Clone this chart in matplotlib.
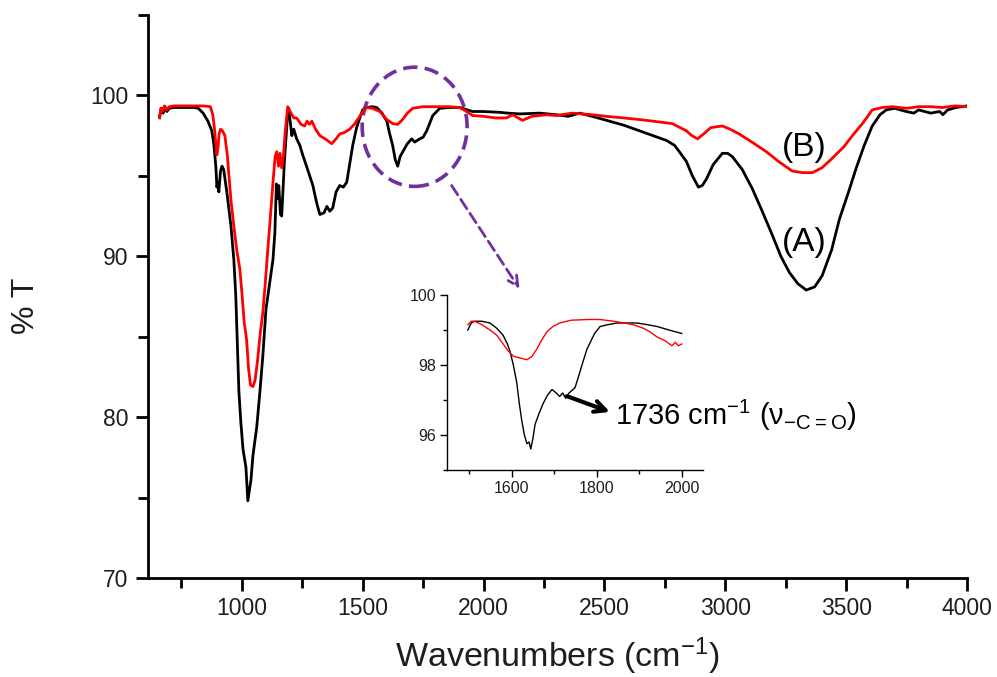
import matplotlib
matplotlib.use("Agg")
import matplotlib.pyplot as plt
from matplotlib.patches import Ellipse
from matplotlib.ticker import MultipleLocator

plt.rcParams['font.family'] = ['Liberation Sans', 'DejaVu Sans']
plt.rcParams['mathtext.default'] = 'regular'

# ---- main spectrum (A), black ----
wave_A = [660, 668, 675, 682, 690, 700, 720, 760, 800, 820, 840, 860, 876, 885, 893, 897, 901, 905, 912, 918,
          925, 938, 955, 967, 975, 982, 988, 996, 1005, 1017, 1025, 1038, 1046, 1062, 1075, 1087, 1100, 1116,
          1129, 1137, 1143, 1148, 1153, 1160, 1165, 1170, 1176, 1182, 1190, 1194, 1200, 1207, 1215, 1227, 1240,
          1252, 1270, 1294, 1310, 1323, 1340, 1352, 1364, 1376, 1390, 1405, 1420, 1434, 1445, 1459, 1475, 1488,
          1500, 1517, 1540, 1558, 1580, 1600, 1612, 1624, 1635, 1645, 1655, 1666, 1685, 1703, 1715, 1736, 1750,
          1765, 1790, 1819, 1860, 1901, 1955, 2000, 2066, 2100, 2150, 2232, 2300, 2350, 2397, 2450, 2509, 2580,
          2645, 2700, 2757, 2790, 2810, 2839, 2864, 2889, 2905, 2922, 2950, 2988, 3010, 3029, 3070, 3112, 3150,
          3195, 3230, 3265, 3300, 3335, 3370, 3401, 3440, 3472, 3510, 3542, 3575, 3608, 3640, 3666, 3700, 3749,
          3780, 3800, 3850, 3887, 3900, 3920, 3955, 4000]
trans_A = [98.7, 99.2, 98.9, 99.3, 99.0, 99.2, 99.25, 99.25, 99.25, 99.2, 98.9, 98.4, 97.8, 96.9, 95.5, 94.3, 94.6,
           94.0, 95.3, 95.6, 95.4, 94.0, 91.9, 89.8, 87.6, 84.4, 81.6, 79.7, 78.0, 76.9, 74.8, 76.1, 77.6, 79.4,
           81.6, 83.8, 86.7, 88.4, 89.8, 91.5, 94.5, 93.6, 94.4, 92.6, 92.5, 94.0, 95.8, 97.2, 99.0, 99.2, 98.4,
           97.5, 97.9, 97.3, 96.9, 96.3, 95.5, 94.4, 93.3, 92.6, 92.7, 93.1, 92.8, 93.0, 94.0, 94.4, 94.3, 94.6,
           95.6, 96.9, 98.0, 98.6, 99.1, 99.25, 99.3, 99.25, 98.9, 98.4, 97.6, 96.9, 96.0, 95.6, 96.2, 96.5, 97.0,
           97.3, 97.1, 97.3, 97.4, 97.8, 98.75, 99.2, 99.25, 99.25, 99.0, 99.0, 98.95, 98.9, 98.85, 98.9, 98.8,
           98.7, 98.9, 98.7, 98.45, 98.15, 97.8, 97.5, 97.2, 96.9, 96.5, 95.9, 95.0, 94.3, 94.4, 94.8, 95.7, 96.4,
           96.4, 96.2, 95.4, 94.2, 92.9, 91.3, 90.0, 89.0, 88.3, 87.9, 88.1, 88.8, 90.4, 92.3, 94.0, 95.5, 96.9,
           98.1, 98.8, 99.1, 99.2, 99.0, 98.9, 99.1, 98.9, 99.0, 98.8, 99.1, 99.25, 99.35]

# ---- main spectrum (B), red ----
wave_B = [660, 665, 672, 680, 690, 700, 720, 760, 800, 840, 870, 880, 888, 893, 897, 902, 906, 912, 920, 930, 940,
          955, 970, 980, 992, 1000, 1010, 1020, 1028, 1036, 1046, 1055, 1065, 1077, 1087, 1097, 1108, 1120, 1130,
          1138, 1145, 1152, 1158, 1165, 1172, 1180, 1190, 1200, 1215, 1227, 1245, 1260, 1270, 1280, 1290, 1305,
          1323, 1345, 1372, 1390, 1405, 1425, 1446, 1465, 1488, 1505, 1517, 1540, 1571, 1600, 1624, 1645, 1665,
          1685, 1707, 1749, 1800, 1860, 1901, 1930, 1955, 2000, 2050, 2095, 2120, 2161, 2200, 2260, 2300, 2368,
          2450, 2509, 2580, 2645, 2700, 2781, 2839, 2862, 2885, 2910, 2940, 2988, 3020, 3058, 3110, 3170, 3220,
          3277, 3320, 3360, 3400, 3443, 3490, 3526, 3570, 3608, 3650, 3691, 3750, 3800, 3850, 3900, 3950, 4000]
trans_B = [98.6, 99.2, 99.0, 99.35, 99.1, 99.3, 99.35, 99.35, 99.35, 99.35, 99.3, 98.8, 97.8, 96.9, 96.3, 96.8,
           97.6, 97.9, 97.8, 97.5, 96.3, 93.5, 91.5, 90.3, 89.2, 87.8, 85.9, 84.8, 83.0, 82.0, 81.9, 82.3, 83.5,
           85.3, 86.5, 88.3, 90.5, 92.8, 94.8, 96.2, 96.5, 95.6, 96.4, 95.5, 96.2, 97.8, 99.3, 99.0, 98.6, 98.6,
           98.2, 98.1, 98.4, 98.2, 98.4, 97.9, 97.5, 97.3, 97.0, 97.3, 97.6, 97.7, 97.9, 98.2, 98.7, 99.1, 99.25,
           99.2, 99.0, 98.5, 98.25, 98.2, 98.5, 98.9, 99.2, 99.3, 99.3, 99.3, 99.25, 99.0, 98.75, 98.7, 98.6, 98.6,
           98.8, 98.45, 98.7, 98.8, 98.75, 98.9, 98.8, 98.7, 98.6, 98.5, 98.4, 98.25, 97.8, 97.5, 97.3, 97.6,
           98.0, 98.1, 97.9, 97.6, 97.1, 96.5, 95.9, 95.3, 95.2, 95.2, 95.5, 96.1, 96.8, 97.5, 98.3, 99.1, 99.25,
           99.3, 99.2, 99.3, 99.3, 99.25, 99.35, 99.3]

# ---- inset (zoom on 1500-2000 cm-1) ----
wave_A_in = [1497, 1505, 1513, 1530, 1549, 1565, 1580, 1590, 1596, 1604, 1612, 1618, 1624, 1630, 1636, 1641, 1645,
             1650, 1655, 1664, 1674, 1685, 1695, 1705, 1713, 1720, 1727, 1735, 1749, 1758, 1768, 1777, 1785, 1795,
             1808, 1825, 1848, 1870, 1895, 1920, 1942, 1970, 2000]
trans_A_in = [99.0, 99.2, 99.25, 99.25, 99.2, 99.05, 98.85, 98.6, 98.4, 98.0, 97.5, 96.9, 96.4, 96.0, 95.75, 95.8,
              95.6, 95.9, 96.3, 96.6, 96.9, 97.15, 97.3, 97.2, 97.1, 97.2, 97.05, 97.2, 97.35, 97.7, 98.1, 98.45,
              98.65, 98.9, 99.1, 99.15, 99.2, 99.2, 99.2, 99.15, 99.1, 99.0, 98.9]
wave_B_in = [1497, 1505, 1513, 1530, 1549, 1565, 1580, 1592, 1604, 1620, 1636, 1648, 1659, 1670, 1683, 1697, 1713,
             1740, 1780, 1808, 1840, 1865, 1886, 1910, 1925, 1942, 1960, 1977, 1985, 1992, 2000]
trans_B_in = [99.15, 99.25, 99.25, 99.15, 99.0, 98.85, 98.6, 98.4, 98.25, 98.2, 98.15, 98.25, 98.45, 98.7, 98.95,
              99.1, 99.2, 99.28, 99.3, 99.3, 99.25, 99.2, 99.15, 99.05, 98.95, 98.8, 98.7, 98.55, 98.65, 98.55, 98.6]

main_xticks = [1000, 1500, 2000, 2500, 3000, 3500, 4000]
main_yticks = [70, 80, 90, 100]
inset_xticks = [1600, 1800, 2000]
inset_yticks = [96, 98, 100]

PURPLE = '#7030A0'
RED = '#FF0000'
TXT = '#1e1e1e'

fig = plt.figure(figsize=(9.97, 6.77), dpi=100)
ax = fig.add_axes([148/997, 1-578/677, (967-148)/997, (578-15)/677])
ax.plot(wave_A, trans_A, color='black', lw=2.0)
ax.plot(wave_B, trans_B, color=RED, lw=2.0)
ax.set_xlim(612, 4000)
ax.set_ylim(70, 105)
ax.set_xticks(main_xticks)
ax.set_yticks(main_yticks)
ax.xaxis.set_minor_locator(MultipleLocator(250))
ax.yaxis.set_minor_locator(MultipleLocator(5))
for s in ['top', 'right']:
    ax.spines[s].set_visible(False)
for s in ['left', 'bottom']:
    ax.spines[s].set_linewidth(2.0)
ax.tick_params(which='major', direction='out', length=9, width=2, labelsize=16.5, pad=5,
               labelcolor=TXT)
ax.tick_params(which='minor', direction='out', length=7, width=2)

fig.text(557/997, 1-667/677, 'Wavenumbers (cm$^{-1}$)', ha='center', va='baseline', fontsize=24.5,
         color=TXT)
fig.text(26/997, 1-306/677, '% T', ha='center', va='center', rotation=90, fontsize=23, color=TXT)

ax.text(3328, 95.8, '(B)', fontsize=24, ha='center', va='bottom', color='black')
ax.text(3328, 89.9, '(A)', fontsize=24, ha='center', va='bottom', color='black')

# dashed ellipse highlighting region
ell = Ellipse((1715, 98.05), width=434, height=7.41, fill=False, edgecolor=PURPLE, lw=2.6,
              linestyle=(0, (4, 2)), clip_on=False)
ax.add_patch(ell)
ax.annotate('', xy=(2149, 87.98), xytext=(1868, 94.4),
            arrowprops=dict(arrowstyle='->', color=PURPLE, lw=2.0, linestyle=(0, (4, 2)),
                            mutation_scale=18, shrinkA=0, shrinkB=0))

# inset
axi = fig.add_axes([447/997, 1-470/677, (703-447)/997, (470-295)/677])
axi.plot(wave_A_in, trans_A_in, color='black', lw=1.0)
axi.plot(wave_B_in, trans_B_in, color=RED, lw=1.0)
axi.set_xlim(1448, 2050)
axi.set_ylim(95, 100)
axi.set_xticks(inset_xticks)
axi.set_yticks(inset_yticks)
axi.xaxis.set_minor_locator(MultipleLocator(100))
axi.yaxis.set_minor_locator(MultipleLocator(1))
for s in ['top', 'right']:
    axi.spines[s].set_visible(False)
for s in ['left', 'bottom']:
    axi.spines[s].set_linewidth(1.0)
axi.tick_params(which='major', direction='out', length=5, width=1, labelsize=11.5, pad=3,
                labelcolor=TXT)
axi.tick_params(which='minor', direction='out', length=3, width=1)
axi.patch.set_alpha(0)

axi.annotate('', xy=(1831, 96.66), xytext=(1730, 97.11),
             arrowprops=dict(arrowstyle='->', color='black', lw=3.0, mutation_scale=20,
                             shrinkA=0, shrinkB=0), annotation_clip=False)
axi.text(1843, 96.57, '1736 cm$^{-1}$ (ν$_{-C=O}$)', fontsize=21, ha='left', va='center',
         color='black', clip_on=False)

fig.savefig('out.png', dpi=100)
